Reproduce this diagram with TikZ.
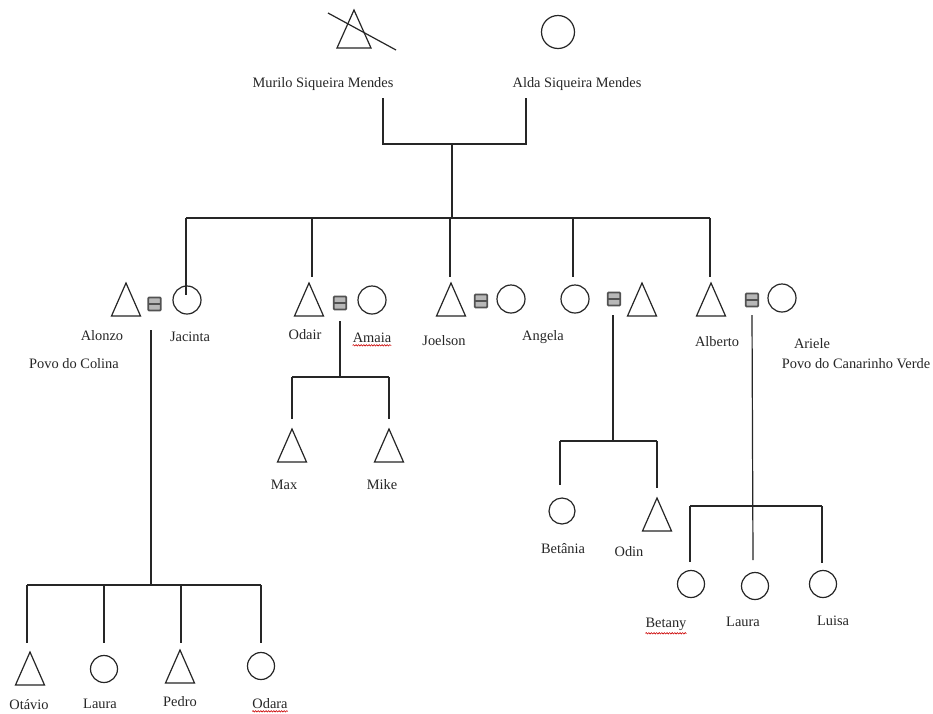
\documentclass[tikz,border=0pt]{standalone}
\usepackage{fontspec}
\setmainfont{Liberation Serif}
\usetikzlibrary{decorations.pathmorphing}
\tikzset{
  ln/.style={line width=1.2pt, draw=black!85},
  shp/.style={line width=1.2pt, draw=black!85, line join=miter},
  fem/.style={circle, shp, minimum size=27pt, inner sep=0pt},
  lbl/.style={font=\fontsize{14.4}{16}\selectfont, inner sep=0pt, text=black!85, anchor=base},
  mbox/.style={draw=black!68, fill=black!28, line width=1.8pt, minimum width=12.5pt,
    minimum height=13pt, inner sep=0pt, rounded corners=0.8pt,
    path picture={\draw[black!68, line width=1.8pt] (path picture bounding box.west) -- (path picture bounding box.east);}},
  spell/.style={draw=red!80!black, line width=0.6pt, decorate,
    decoration={snake, amplitude=0.7pt, segment length=2.6pt}}
}
\newcommand{\maletri}[3]{\coordinate (#1) at (#2,#3);
  \draw[shp] (#1) -- ++(-14.5,33) -- ++(29,0) -- cycle;}
\begin{document}
\begin{tikzpicture}[x=1pt,y=-1pt]
\useasboundingbox (0,0) rectangle (933,713);
\fill[white] (0,0) rectangle (933,713);

% ---------- generation 0
\coordinate (murilo) at (354,10);
\draw[shp] (murilo) -- ++(-17,38) -- ++(34,0) -- cycle;
\coordinate (crossA) at (328,13);
\coordinate (crossB) at (396,50);
\draw[ln] (crossA) -- (crossB);
\node[fem, minimum size=33pt] (alda) at (558,32) {};
\node[lbl] (muriloL) at (323,87) {Murilo Siqueira Mendes};
\node[lbl] (aldaL) at (577,87) {Alda Siqueira Mendes};

\coordinate (p0a) at (383,98);
\coordinate (p0b) at (526,98);
\draw[ln] (p0a) |- (452,144) -| (p0b);
\coordinate (p0m) at (452,144);
\coordinate (g1bar) at (452,218);
\draw[ln] (p0m) -- (g1bar);

% ---------- generation 1
\maletri{alonzo}{126}{283}
\node[mbox] (m1) at (154.5,304) {};
\node[fem, minimum size=28pt] (jacinta) at (187,300) {};

\maletri{odair}{309}{283}
\node[mbox] (m2) at (340,303) {};
\node[fem, minimum size=28pt] (amaia) at (372,300) {};

\maletri{joelson}{451}{283}
\node[mbox] (m3) at (481,301) {};
\node[fem, minimum size=28pt] (joelw) at (511,299) {};

\node[fem, minimum size=28pt] (angela) at (575,299) {};
\node[mbox] (m4) at (614,299) {};
\maletri{angelah}{642}{283}

\maletri{alberto}{711}{283}
\node[mbox] (m5) at (752,300) {};
\node[fem, minimum size=28pt] (ariele) at (782,298) {};

\draw[ln] (186,218) -- (710,218);
\draw[ln] (186,218) -- ([yshift=-10pt]jacinta.north -| 186,0);
\draw[ln] (312,218) -- (312,277);
\draw[ln] (450,218) -- (450,277);
\draw[ln] (573,218) -- (573,277);
\draw[ln] (710,218) -- (710,277);

\node[lbl] (alonzoL) at (102,340) {Alonzo};
\node[lbl] (jacintaL) at (190,341) {Jacinta};
\node[lbl] (colinaL) at (74,368) {Povo do Colina};
\node[lbl] (odairL) at (305,339) {Odair};
\node[lbl] (amaiaL) at (372,342) {Amaia};
\node[lbl] (joelsonL) at (444,345) {Joelson};
\node[lbl] (angelaL) at (543,340) {Angela};
\node[lbl] (albertoL) at (717,346) {Alberto};
\node[lbl] (arieleL) at (812,348) {Ariele};
\node[lbl] (canarinhoL) at (856,368) {Povo do Canarinho Verde};
\draw[spell] ([yshift=-3pt]amaiaL.south west) -- ([yshift=-3pt]amaiaL.south east);

% ---------- Alonzo & Jacinta children
\coordinate (d1) at (151,330);
\coordinate (d1b) at (151,585);
\draw[ln] (d1) -- (d1b);
\draw[ln] (27,585) -- (261,585);
\maletri{otavio}{30}{652}
\node[fem] (laura1) at (104,669) {};
\maletri{pedro}{180}{650}
\node[fem] (odara) at (261,666) {};
\draw[ln] (27,585) -- (27,643);
\draw[ln] (104,585) -- (104,643);
\draw[ln] (181,585) -- (181,643);
\draw[ln] (261,585) -- (261,643);
\node[lbl] (otavioL) at (29,709) {Otávio};
\node[lbl] (laura1L) at (100,708) {Laura};
\node[lbl] (pedroL) at (180,706) {Pedro};
\node[lbl] (odaraL) at (270,708) {Odara};
\draw[spell] ([yshift=-3pt]odaraL.south west) -- ([yshift=-3pt]odaraL.south east);

% ---------- Odair & Amaia children
\coordinate (d2) at (340,321);
\draw[ln] (d2) -- (340,377);
\draw[ln] (292,377) -- (389,377);
\maletri{max}{292}{429}
\maletri{mike}{389}{429}
\draw[ln] (292,377) -- (292,419);
\draw[ln] (389,377) -- (389,419);
\node[lbl] (maxL) at (284,489) {Max};
\node[lbl] (mikeL) at (382,489) {Mike};

% ---------- Angela children
\coordinate (d4) at (613,315);
\draw[ln] (d4) -- (613,441);
\draw[ln] (560,441) -- (657,441);
\node[fem, minimum size=26pt] (betania) at (562,511) {};
\maletri{odin}{657}{498}
\draw[ln] (560,441) -- (560,485);
\draw[ln] (657,441) -- (657,488);
\node[lbl] (betaniaL) at (563,553) {Betânia};
\node[lbl] (odinL) at (629,556) {Odin};

% ---------- Alberto & Ariele children
\coordinate (d5) at (752,315);
\draw[ln] (d5) -- (753,560);
\draw[ln] (690,506) -- (822,506);
\node[fem] (betany) at (691,584) {};
\node[fem] (laura2) at (755,586) {};
\node[fem] (luisa) at (823,584) {};
\draw[ln] (690,506) -- (690,562);
\draw[ln] (822,506) -- (822,563);
\node[lbl] (betanyL) at (666,627) {Betany};
\node[lbl] (laura2L) at (743,626) {Laura};
\node[lbl] (luisaL) at (833,625) {Luisa};
\draw[spell] ([yshift=-3pt]betanyL.south west) -- ([yshift=-3pt]betanyL.south east);
\end{tikzpicture}
\end{document}
